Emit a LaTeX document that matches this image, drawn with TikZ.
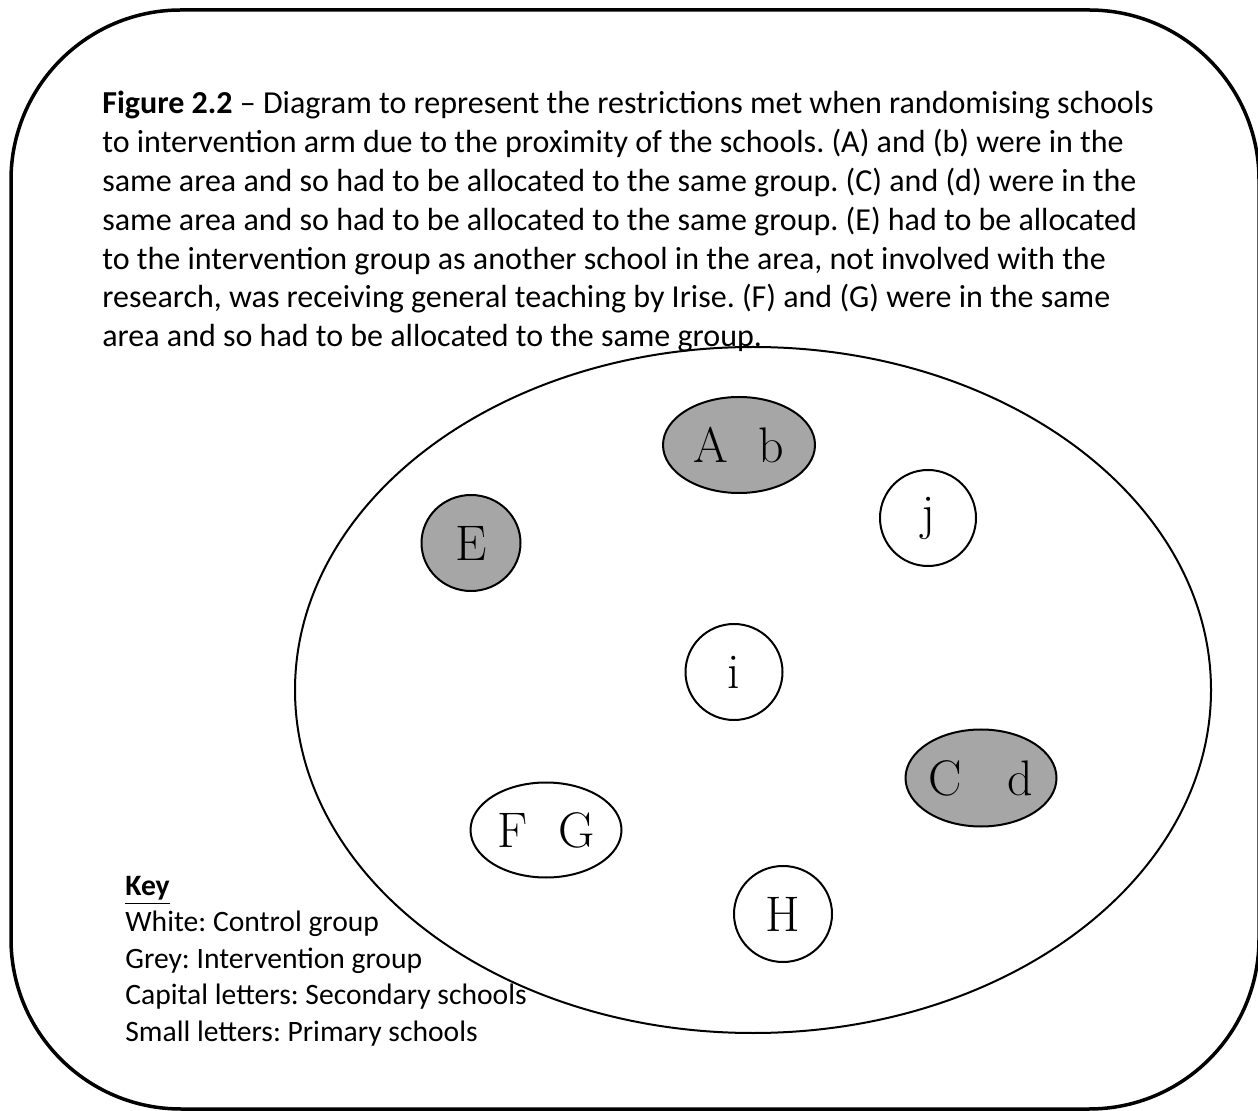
\documentclass[tikz,border=0pt]{standalone}
\usepackage{fontspec}
\usetikzlibrary{shapes.geometric}
\newfontfamily\calibri{Carlito}
\frenchspacing

\begin{document}
\begin{tikzpicture}[x=0.5pt,y=-0.5pt,
    school/.style={draw, ellipse, line width=1pt, inner sep=0pt, font=\fontsize{25}{30}\selectfont},
    control/.style={school, fill=white},
    interv/.style={school, fill=black!35}]
\useasboundingbox (0,0) rectangle (1258,1111);
% frame
\draw[line width=1.75pt, rounded corners=85pt] (11,10) rectangle (1259,1109);

\node[anchor=north west, inner sep=0pt, align=left, font=\calibri\fontsize{16}{19.4}\selectfont] (caption) at (102,91)
  {\textbf{Figure 2.2} – Diagram to represent the restrictions met when randomising schools\\
   to intervention arm due to the proximity of the schools. (A) and (b) were in the\\
   same area and so had to be allocated to the same group. (C) and (d) were in the\\
   same area and so had to be allocated to the same group. (E) had to be allocated\\
   to the intervention group as another school in the area, not involved with the\\
   research, was receiving general teaching by Irise. (F) and (G) were in the same\\
   area and so had to be allocated to the same group.};

% area
\node[draw, ellipse, line width=1pt, minimum width=458pt, minimum height=343pt] (area) at (753,690) {};

% schools
\node[interv, minimum width=76pt, minimum height=48pt] (Ab) at (739,445) {A~~b};
\node[interv, minimum width=49.5pt, minimum height=48pt] (E) at (471,543) {E};
\node[control, minimum width=48pt, minimum height=48pt] (j) at (928,518) {j};
\node[control, minimum width=48.5pt, minimum height=48pt] (i) at (734,672) {i};
\node[interv, minimum width=75.5pt, minimum height=48.5pt] (Cd) at (981,778) {C~~~d};
\node[control, minimum width=75.5pt, minimum height=47.5pt] (FG) at (546,830) {F~~G};
\node[control, minimum width=49pt, minimum height=48pt] (H) at (783,914) {H};

% key
\node[anchor=north west, inner sep=0pt, align=left, font=\calibri\fontsize{14.8}{18.2}\selectfont] (key) at (125,876)
  {\underline{\textbf{Key}}\\
   White: Control group\\
   Grey: Intervention group\\
   Capital letters: Secondary schools\\
   Small letters: Primary schools};
\end{tikzpicture}
\end{document}
